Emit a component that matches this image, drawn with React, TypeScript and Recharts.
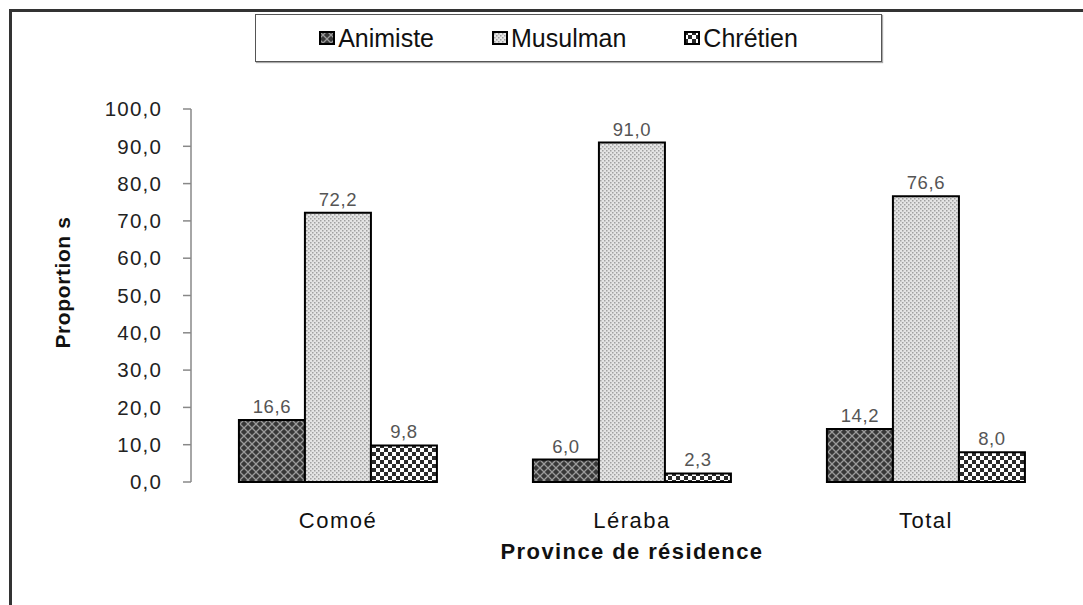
import { BarChart, Bar, XAxis, YAxis, LabelList, Label } from "recharts";

const provinces = ["Comoé", "Léraba", "Total"];
const animiste = [16.6, 6.0, 14.2];
const musulman = [72.2, 91.0, 76.6];
const chretien = [9.8, 2.3, 8.0];
const yTicks = [0, 10, 20, 30, 40, 50, 60, 70, 80, 90, 100];
const edgeTicks = [0, 1, 2, 3];

const data = provinces.map((p, i) => ({
  province: p,
  Animiste: animiste[i],
  Musulman: musulman[i],
  Chrétien: chretien[i],
}));

const series = [
  { key: "Animiste", fill: "url(#patAnim)" },
  { key: "Musulman", fill: "url(#patMus)" },
  { key: "Chrétien", fill: "url(#patChr)" },
];

const fmt = (v: number) => v.toFixed(1).replace(".", ",");
const font = "Arial, 'Liberation Sans', sans-serif";

function LegendBox() {
  return (
    <div
      style={{
        position: "absolute",
        left: 255,
        top: 14,
        width: 627,
        height: 48,
        border: "1.5px solid #555",
        boxShadow: "1px 1px 1px #aaa",
        display: "flex",
        alignItems: "center",
        justifyContent: "center",
        gap: 58,
        paddingRight: 20,
        boxSizing: "border-box",
        fontFamily: font,
        fontSize: 25,
        color: "#111",
        background: "#fff",
      }}
    >
      {series.map((s) => (
        <div key={s.key} style={{ display: "flex", alignItems: "center" }}>
          <svg width={16} height={14} style={{ marginRight: 3 }}>
            <rect x={1} y={1} width={14} height={12} fill={s.fill} stroke="#000" strokeWidth={2} />
          </svg>
          <span>{s.key}</span>
        </div>
      ))}
    </div>
  );
}

export default function App() {
  return (
    <div style={{ position: "fixed", left: 0, top: 0, width: 1083, height: 605, overflow: "hidden", background: "#fff" }}>
      <div style={{ position: "absolute", left: 9, top: 9, width: 1200, height: 800, border: "3px solid #333" }} />
      <div style={{ position: "absolute", left: 0, top: 0 }}>
        <BarChart
          width={1083}
          height={605}
          data={data}
          margin={{ top: 109, right: 10, bottom: 43, left: 0 }}
          barCategoryGap="16.3%"
          barGap={0}
        >
          <defs>
            <pattern id="patAnim" width={8} height={8} patternUnits="userSpaceOnUse">
              <rect width={8} height={8} fill="#383838" />
              <path d="M0,0 L8,8 M8,0 L0,8" stroke="#9a9a9a" strokeWidth={1.3} />
            </pattern>
            <pattern id="patMus" width={4} height={4} patternUnits="userSpaceOnUse">
              <rect width={4} height={4} fill="#e4e4e4" />
              <rect x={0} y={0} width={1.5} height={1.5} fill="#a0a0a0" />
              <rect x={2} y={2} width={1.5} height={1.5} fill="#a0a0a0" />
            </pattern>
            <pattern id="patChr" width={8} height={8} patternUnits="userSpaceOnUse">
              <rect width={8} height={8} fill="#fff" />
              <rect x={0} y={0} width={4} height={4} fill="#2a2a2a" />
              <rect x={4} y={4} width={4} height={4} fill="#2a2a2a" />
            </pattern>
          </defs>
          <XAxis
            xAxisId="edges"
            type="number"
            domain={[0, 3]}
            ticks={edgeTicks}
            tickFormatter={() => ""}
            height={0}
            tickSize={8}
            axisLine={{ stroke: "#888", strokeWidth: 1.5 }}
            tickLine={{ stroke: "#888", strokeWidth: 1.5 }}
          />
          <XAxis
            dataKey="province"
            height={80}
            axisLine={false}
            tickLine={false}
            tickMargin={24}
            tick={{ fontFamily: font, fontSize: 22, fill: "#111", letterSpacing: 1.5 }}
          >
            <Label
              value="Province de résidence"
              position="insideBottom"
              offset={3}
              style={{ fontFamily: font, fontSize: 22, fontWeight: "bold", fill: "#111", letterSpacing: 1.4 }}
            />
          </XAxis>
          <YAxis
            width={191}
            domain={[0, 100]}
            ticks={yTicks}
            tickFormatter={fmt}
            tickSize={8}
            tickMargin={21}
            axisLine={{ stroke: "#888", strokeWidth: 1.5 }}
            tickLine={{ stroke: "#888", strokeWidth: 1.5 }}
            tick={{ fontFamily: font, fontSize: 20.5, fill: "#222", letterSpacing: 1.2 }}
            interval={0}
          >
            <Label
              content={({ viewBox }: any) => {
                const cx = 62;
                const cy = viewBox.y + viewBox.height / 2 - 13;
                return (
                  <text
                    x={cx}
                    y={cy}
                    transform={`rotate(-90, ${cx}, ${cy})`}
                    textAnchor="middle"
                    dominantBaseline="central"
                    style={{ fontFamily: font, fontSize: 21, fontWeight: "bold", fill: "#111", letterSpacing: 0.6 }}
                  >
                    Proportion s
                  </text>
                );
              }}
            />
          </YAxis>
          {series.map((s) => (
            <Bar key={s.key} dataKey={s.key} fill={s.fill} stroke="#000" strokeWidth={2} isAnimationActive={false}>
              <LabelList
                dataKey={s.key}
                position="top"
                offset={7}
                formatter={(v: any) => fmt(Number(v))}
                style={{ fontFamily: font, fontSize: 18.5, fill: "#555", letterSpacing: 0.6 }}
              />
            </Bar>
          ))}
        </BarChart>
      </div>
      <LegendBox />
    </div>
  );
}
